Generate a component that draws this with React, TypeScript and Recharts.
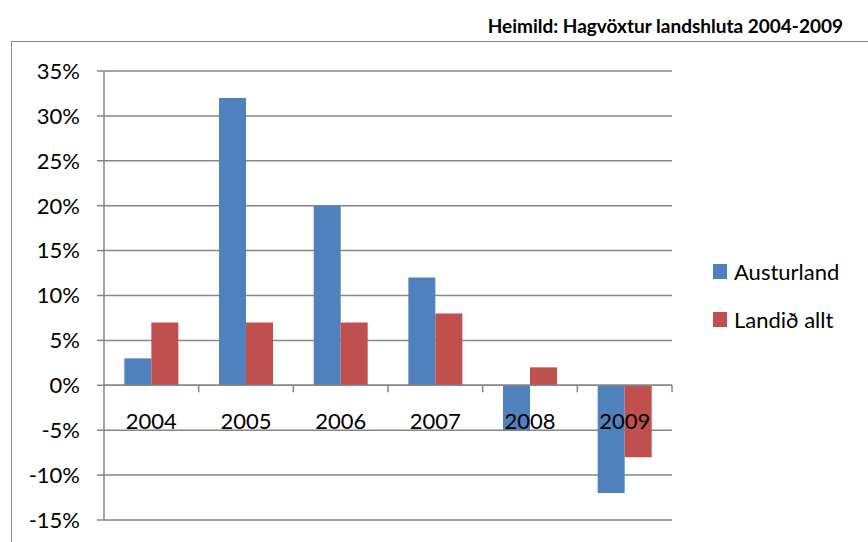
import { BarChart, Bar, XAxis, YAxis, CartesianGrid, ReferenceLine } from "recharts"

const years = ["2004", "2005", "2006", "2007", "2008", "2009"]
const austurland = [3, 32, 20, 12, -5, -12]
const landidAllt = [7, 7, 7, 8, 2, -8]
const yTicks = [-15, -10, -5, 0, 5, 10, 15, 20, 25, 30, 35]

const seriesInfo = [
  { key: "austurland", name: "Austurland", color: "#4F81BD" },
  { key: "landid", name: "Landið allt", color: "#C0504D" },
]

const data = years.map((year, i) => ({
  year,
  austurland: austurland[i],
  landid: landidAllt[i],
}))

const FONT = "Lato, 'Open Sans', sans-serif"
const GRID = "#868686"

// zero line with category ticks and labels (Excel style axis crossing at 0)
function ZeroAxis(props: any) {
  const { x1, x2, y1 } = props
  if (x1 == null || y1 == null) return null
  const step = (x2 - x1) / years.length
  return (
    <g>
      <line x1={x1} x2={x2} y1={y1} y2={y1} stroke={GRID} strokeWidth={1.5} />
      {years.map((_, i) => (
        <line key={"t" + i} x1={x1 + step * (i + 1)} x2={x1 + step * (i + 1)} y1={y1} y2={y1 + 7} stroke={GRID} strokeWidth={1.5} />
      ))}
      {years.map((yr, i) => (
        <text key={yr} x={x1 + step * (i + 0.5)} y={y1 + 44} textAnchor="middle" fontSize={22} fontFamily={FONT} fill="#000">
          {yr}
        </text>
      ))}
    </g>
  )
}

function LegendBox() {
  return (
    <div style={{ position: "absolute", left: 713, top: 247, fontFamily: FONT, fontSize: 22, color: "#000" }}>
      {seriesInfo.map((s) => (
        <div key={s.key} style={{ display: "flex", alignItems: "center", height: 48 }}>
          <span style={{ display: "inline-block", width: 14, height: 15, background: s.color, marginRight: 7 }} />
          <span>{s.name}</span>
        </div>
      ))}
    </div>
  )
}

export default function App() {
  return (
    <div style={{ position: "absolute", left: 0, top: 0, width: 868, height: 542, background: "#fff", overflow: "hidden" }}>
      <div
        style={{
          position: "absolute",
          right: 25,
          top: 14,
          fontFamily: FONT,
          fontWeight: 700,
          fontSize: 19,
          color: "#000",
        }}
      >
        Heimild: Hagvöxtur landshluta 2004-2009
      </div>
      <div
        style={{
          position: "absolute",
          left: 11,
          top: 41,
          width: 870,
          height: 520,
          borderLeft: "1.5px solid #8a8a8a",
          borderTop: "1.5px solid #8a8a8a",
        }}
      />
      <div style={{ position: "absolute", left: 0, top: 0 }}>
        <BarChart
          width={868}
          height={542}
          data={data}
          margin={{ top: 71, right: 196, bottom: 22, left: 24 }}
          barCategoryGap="21.5%"
          barGap={0}
        >
          <CartesianGrid vertical={false} stroke={GRID} strokeWidth={1.5} />
          <XAxis dataKey="year" hide />
          <YAxis
            width={80}
            domain={[-15, 35]}
            ticks={yTicks}
            interval={0}
            tickFormatter={(v: number) => `${v}%`}
            axisLine={{ stroke: GRID, strokeWidth: 1.5 }}
            tickLine={{ stroke: GRID, strokeWidth: 1.5 }}
            tickSize={7}
            tickMargin={17}
            tick={{ fill: "#000", fontSize: 22, fontFamily: FONT }}
          />
          {seriesInfo.map((s) => (
            <Bar key={s.key} dataKey={s.key} name={s.name} fill={s.color} isAnimationActive={false} />
          ))}
          <ReferenceLine y={0} shape={<ZeroAxis />} />
        </BarChart>
      </div>
      <LegendBox />
    </div>
  )
}
